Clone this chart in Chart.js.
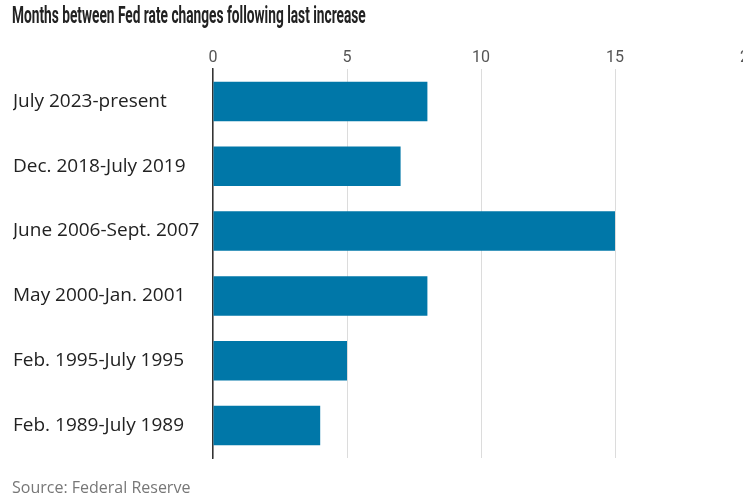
<!DOCTYPE html>
<html>
<head>
<meta charset="utf-8">
<script src="https://cdn.jsdelivr.net/npm/chart.js@4/dist/chart.umd.min.js"></script>
<style>
  html, body { margin: 0; padding: 0; background: #fff; overflow: hidden; width: 743px; height: 500px; }
  #wrap { position: relative; width: 760px; height: 500px; }
  #title { position: absolute; left: 12px; top: 2px; font: bold 23px Roboto, sans-serif; color: #222; white-space: nowrap; transform-origin: 0 50%; }
  #source { position: absolute; left: 12px; top: 476px; font: 16px "Open Sans", sans-serif; color: #777; white-space: nowrap; }
  canvas { position: absolute; left: 0; top: 0; }
</style>
</head>
<body>
<div id="wrap">
  <canvas id="chart" width="760" height="500"></canvas>
  <div id="title">Months between Fed rate changes following last increase</div>
  <div id="source">Source: Federal Reserve</div>
</div>
<script>
// periods between the last hike and the next change
const periods = [
  'July 2023-present',
  'Dec. 2018-July 2019',
  'June 2006-Sept. 2007',
  'May 2000-Jan. 2001',
  'Feb. 1995-July 1995',
  'Feb. 1989-July 1989'
];
const months = [8, 7, 15, 8, 5, 4];
const xTicks = [0, 5, 10, 15, 20];

const barColor = '#0077a8';

// headline uses a condensed face; squeeze the regular one to the same width
const title = document.getElementById('title');
title.style.transform = 'scaleX(' + (354 / title.offsetWidth) + ')';

new Chart(document.getElementById('chart'), {
  type: 'bar',
  data: {
    labels: periods,
    datasets: [{
      data: months,
      backgroundColor: barColor,
      borderWidth: 0,
      barPercentage: 0.61,
      categoryPercentage: 1
    }]
  },
  options: {
    indexAxis: 'y',
    responsive: false,
    animation: false,
    layout: { padding: { top: 40, bottom: 42, left: 13, right: 11 } },
    plugins: { legend: { display: false }, tooltip: { enabled: false } },
    scales: {
      x: {
        position: 'top',
        min: xTicks[0],
        max: xTicks[xTicks.length - 1],
        afterBuildTicks: axis => { axis.ticks = xTicks.map(v => ({ value: v })); },
        afterFit: axis => { axis.height = 29; },
        grid: { color: '#dcdcdc', lineWidth: 1, drawTicks: false },
        border: { display: false },
        ticks: {
          padding: 1,
          color: '#555',
          font: { family: 'Roboto, sans-serif', size: 16 }
        }
      },
      y: {
        afterFit: axis => { axis.width = 200; },
        grid: { display: false },
        border: { display: true, color: '#333', width: 1.5 },
        ticks: {
          crossAlign: 'far',
          color: '#222',
          font: { family: '"Open Sans", sans-serif', size: 19 }
        }
      }
    }
  }
});
</script>
</body>
</html>
